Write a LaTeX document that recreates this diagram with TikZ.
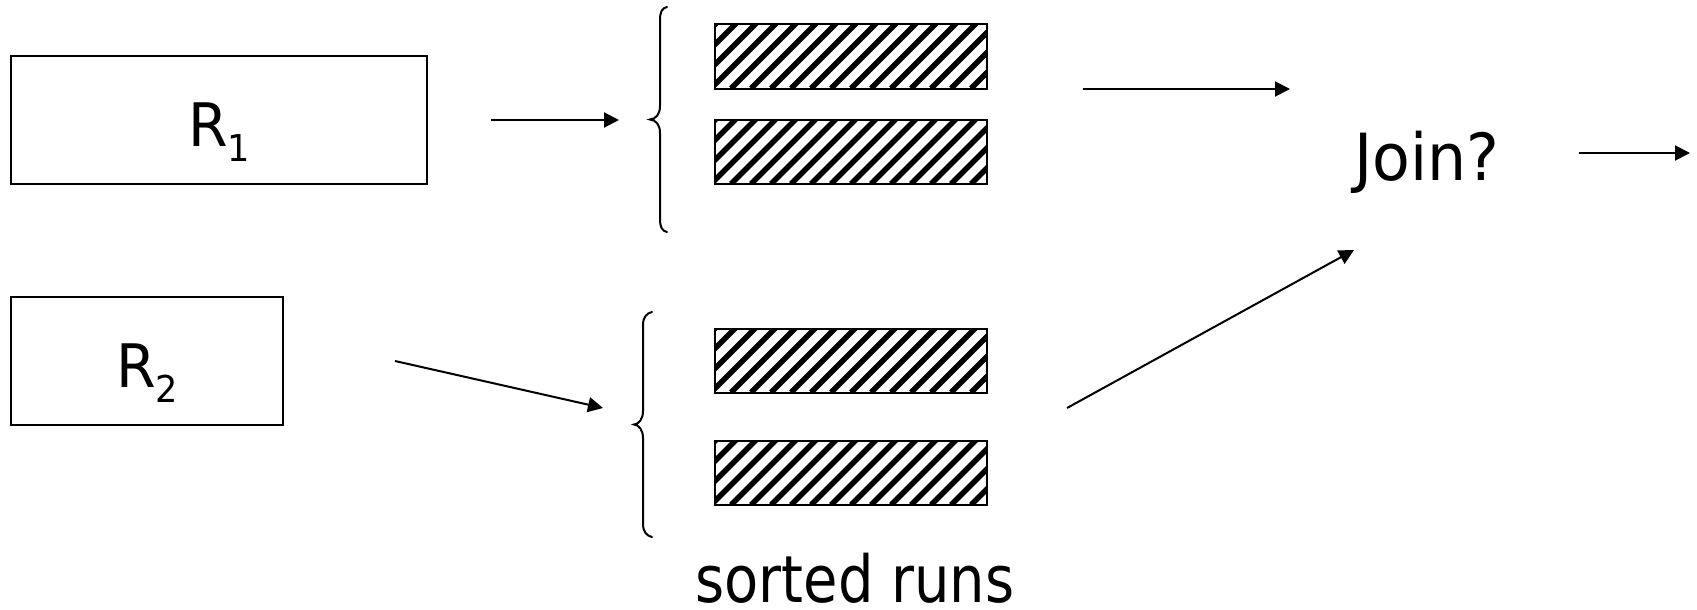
\documentclass[tikz,border=0pt]{standalone}
\usepackage{fontspec}
\setmainfont{DejaVu Sans}[FakeStretch=0.86]
\newfontfamily\widefont{DejaVu Sans}[FakeStretch=0.95]
\usetikzlibrary{arrows.meta}
\newcommand{\relsub}[2]{#1\raisebox{-15pt}{\fontsize{37}{40}\selectfont #2}}
\begin{document}
\begin{tikzpicture}[x=1pt,y=-1pt,
  relbox/.style={draw, line width=2pt, inner sep=0pt},
  lbl/.style={inner sep=0pt, anchor=base, font=\widefont\fontsize{60}{70}\selectfont},
  bigtext/.style={inner sep=0pt, anchor=base, font=\fontsize{65}{78}\selectfont},
  jointext/.style={inner sep=0pt, anchor=base, font=\widefont\fontsize{65}{78}\selectfont},
  run/.style={draw, line width=2pt, minimum width=272pt, minimum height=64pt, inner sep=0pt,
    path picture={
      \foreach \k in {-4,...,14}{
        \draw[line width=5.4pt] ([xshift=\k*20pt-4pt]path picture bounding box.south west) -- ++(80pt,80pt);
      }}},
  arr/.style={line width=2pt, -{Triangle[length=15pt,width=15pt]}},
  bracepath/.style={line width=2pt, line cap=round}
]
\useasboundingbox (0,0) rectangle (1697,610);

% relation boxes
\node[relbox, minimum width=416pt, minimum height=128pt] (r1) at (219,120) {};
\node[relbox, minimum width=272pt, minimum height=128pt] (r2) at (147,361) {};
\node[lbl] (r1l) at (219,146) {\relsub{R}{1}};
\node[lbl] (r2l) at (147,387) {\relsub{R}{2}};

% sorted runs
\node[run] (s1) at (851,56.5) {};
\node[run] (s2) at (851,152) {};
\node[run] (s3) at (851,360.5) {};
\node[run] (s4) at (851,473) {};
\node[bigtext] (sr) at (855,602) {sorted runs};

% braces
\draw[bracepath] (667,7) .. controls (662,8) and (660,12) .. (660,20) -- (660,106)
  .. controls (660,114) and (656,119) .. (650,119.5)
  .. controls (656,120) and (660,125) .. (660,133) -- (660,219)
  .. controls (660,227) and (662,231) .. (667,232);
\draw[bracepath] (652,312) .. controls (647,313) and (643,317) .. (643,325) -- (643,411)
  .. controls (643,419) and (639,424) .. (634,424.5)
  .. controls (639,425) and (643,430) .. (643,438) -- (643,524)
  .. controls (643,532) and (647,536) .. (652,537);

% join
\node[jointext] (join) at (1427,180) {Join?};

% arrow end points
\coordinate (a1s) at (491,120);
\coordinate (a1e) at (619,120);
\coordinate (a2s) at (395,361);
\coordinate (a2e) at (603,408);
\coordinate (a3s) at (1083,89);
\coordinate (a3e) at (1290,89);
\coordinate (a4s) at (1067,408);
\coordinate (a4e) at (1354,250);
\coordinate (a5s) at (1579,153);
\coordinate (a5e) at (1690,153);

\draw[arr] (a1s) -- (a1e);
\draw[arr] (a2s) -- (a2e);
\draw[arr] (a3s) -- (a3e);
\draw[arr] (a4s) -- (a4e);
\draw[arr] (a5s) -- (a5e);
\end{tikzpicture}
\end{document}
